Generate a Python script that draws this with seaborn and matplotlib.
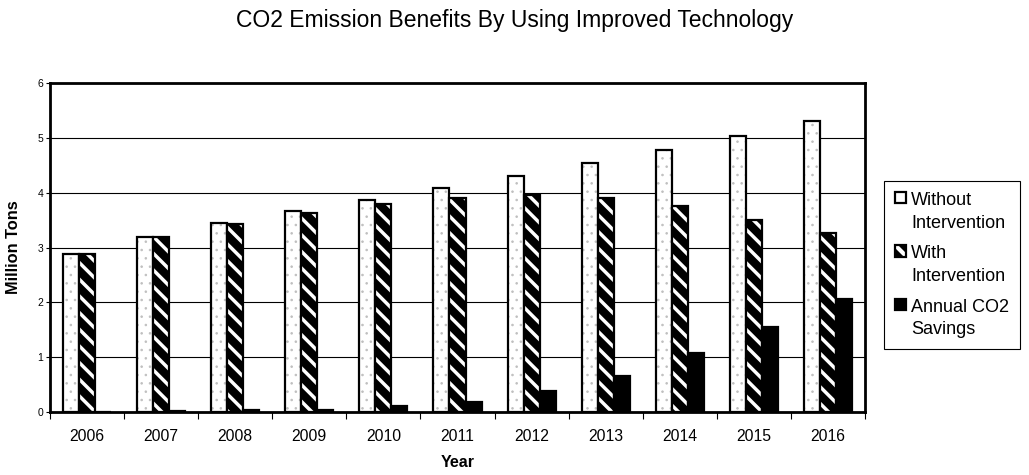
import matplotlib
matplotlib.use("Agg")
import matplotlib.pyplot as plt
import seaborn as sns
import pandas as pd
from matplotlib.patches import Patch

years = ["2006", "2007", "2008", "2009", "2010", "2011", "2012", "2013", "2014", "2015", "2016"]
without_intervention = [2.89, 3.20, 3.44, 3.66, 3.87, 4.08, 4.31, 4.54, 4.78, 5.04, 5.31]
with_intervention = [2.89, 3.20, 3.43, 3.63, 3.79, 3.91, 3.95, 3.90, 3.75, 3.51, 3.27]
annual_savings = [0.0, 0.02, 0.03, 0.04, 0.11, 0.19, 0.39, 0.66, 1.07, 1.55, 2.06]
series_names = ["Without\nIntervention", "With\nIntervention", "Annual CO2\nSavings"]

sns.set_theme(style="white")
plt.rcParams["font.family"] = ["Liberation Sans", "DejaVu Sans"]
plt.rcParams["hatch.linewidth"] = 3.0
for k in ["text.color", "axes.labelcolor", "xtick.color", "ytick.color"]:
    plt.rcParams[k] = "black"

df = pd.DataFrame({
    "Year": years * 3,
    "Value": without_intervention + with_intervention + annual_savings,
    "Series": [series_names[0]] * len(years) + [series_names[1]] * len(years) + [series_names[2]] * len(years),
})

fig = plt.figure(figsize=(10.29, 4.75), dpi=100)
ax = fig.add_axes([50 / 1029, 1 - 412 / 475, (865 - 50) / 1029, (412 - 83) / 475])

sns.barplot(data=df, x="Year", y="Value", hue="Series", hue_order=series_names,
            palette=["white", "black", "black"], width=0.65, gap=0, dodge=True,
            saturation=1, errorbar=None, legend=False, ax=ax, zorder=3)

n = len(years)
bars = [p for p in ax.patches]
for i, p in enumerate(bars):
    s = i // n
    p.set_edgecolor("black")
    p.set_linewidth(1.6)
    if s == 0:
        p.set_facecolor("white")
        p.set_hatch("..")
        p._hatch_color = (0.75, 0.75, 0.75, 1.0)
        try:
            p.set_hatch_linewidth(0.6)
        except Exception:
            pass
    elif s == 1:
        p.set_facecolor("black")
        p.set_hatch("\\\\")
        p._hatch_color = (1, 1, 1, 1)
        try:
            p.set_hatch_linewidth(2.5)
        except Exception:
            pass
    else:
        p.set_facecolor("black")

ax.set_ylim(0, 6)
ax.set_xlim(-0.5, n - 0.5)
ax.set_yticks(range(0, 7))
ax.yaxis.grid(True, color="black", linewidth=0.8, zorder=0)
ax.set_axisbelow(True)
for sp in ax.spines.values():
    sp.set_visible(True)
    sp.set_color("black")
    sp.set_linewidth(2.0)

ax.tick_params(axis="y", which="major", labelsize=7.5, length=3, width=0.8, left=True, pad=2, colors="black")
ax.tick_params(axis="x", which="major", labelsize=11.3, length=0, pad=12, colors="black")
ax.set_xticks([i - 0.5 for i in range(n + 1)], minor=True)
ax.tick_params(axis="x", which="minor", length=5, width=0.8, bottom=True, color="black")

ax.set_xlabel("Year", fontsize=11.5, fontweight="bold", labelpad=8)
ax.set_ylabel("Million Tons", fontsize=11.8, fontweight="bold", labelpad=12)

fig.suptitle("CO2 Emission Benefits By Using Improved Technology", fontsize=16.5,
             y=1 - 21 / 475, va="center")

h0 = Patch(facecolor="white", edgecolor="black", linewidth=1.6)
h1 = Patch(facecolor="black", edgecolor="black", linewidth=1.6, hatch="\\\\")
h1._hatch_color = (1, 1, 1, 1)
h2 = Patch(facecolor="black", edgecolor="black", linewidth=1.6)
leg = fig.legend([h0, h1, h2], series_names, loc="upper left",
                 bbox_to_anchor=(884 / 1029, 1 - 181 / 475), fontsize=13,
                 frameon=True, fancybox=False, edgecolor="black", framealpha=1,
                 handlelength=0.6, handleheight=0.6, handletextpad=0.3,
                 labelspacing=0.75, borderpad=0.6, borderaxespad=0)
leg.get_frame().set_linewidth(0.8)
for t in leg.get_texts():
    t.set_linespacing(1.45)
try:
    for col in leg._legend_handle_box.get_children():
        for row in col.get_children():
            row.align = "top"
except Exception:
    pass

fig.savefig("out.png", dpi=100)
